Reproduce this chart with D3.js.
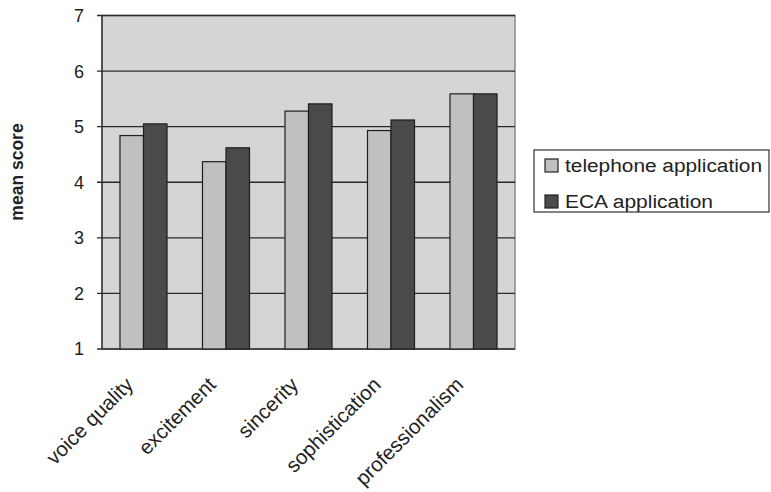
<!DOCTYPE html>
<html>
<head>
<meta charset="utf-8">
<script src="https://cdn.jsdelivr.net/npm/d3@7/dist/d3.min.js"></script>
<style>
  html, body { margin: 0; padding: 0; background: #ffffff; }
  svg { display: block; font-family: "Liberation Sans", Arial, sans-serif; }
</style>
</head>
<body>
<svg id="chart" width="771" height="492"></svg>
<script>
// Rating dimensions and mean scores per application
const categories = ["voice quality", "excitement", "sincerity", "sophistication", "professionalism"];
const seriesNames = ["telephone application", "ECA application"];
const telephoneScores = [4.84, 4.37, 5.28, 4.93, 5.59];
const ecaScores = [5.05, 4.62, 5.41, 5.12, 5.59];
const yTicks = [1, 2, 3, 4, 5, 6, 7];
const yLabel = "mean score";

const seriesValues = [telephoneScores, ecaScores];
const seriesColors = ["#c0c0c0", "#4a4a4a"];

const svg = d3.select("#chart");
const plot = { left: 102, right: 515, top: 15.5, bottom: 349 };

const y = d3.scaleLinear().domain([1, 7]).range([plot.bottom, plot.top]);
const x = d3.scaleBand().domain(categories)
  .range([plot.left, plot.right])
  .paddingInner(0.43).paddingOuter(0.218);
const xs = d3.scaleBand().domain(seriesNames).range([0, x.bandwidth()]);

// Plot background
svg.append("rect")
  .attr("x", plot.left).attr("y", plot.top)
  .attr("width", plot.right - plot.left).attr("height", plot.bottom - plot.top)
  .attr("fill", "#d5d5d5")
  .attr("stroke", "#8a8a8a").attr("stroke-width", 1.5);

// Horizontal gridlines with short ticks past the axis
svg.append("g").selectAll("line")
  .data(yTicks)
  .join("line")
  .attr("x1", plot.left - 5).attr("x2", plot.right)
  .attr("y1", d => y(d)).attr("y2", d => y(d))
  .attr("stroke", "#2a2a2a").attr("stroke-width", 1.3);

// Bars
const rows = categories.map((c, i) => ({ category: c, values: seriesNames.map((s, j) => ({ series: s, j, value: seriesValues[j][i] })) }));
svg.append("g").selectAll("g")
  .data(rows)
  .join("g")
  .attr("transform", d => `translate(${x(d.category)},0)`)
  .selectAll("rect")
  .data(d => d.values)
  .join("rect")
  .attr("x", d => xs(d.series))
  .attr("width", xs.bandwidth())
  .attr("y", d => y(d.value))
  .attr("height", d => y(1) - y(d.value))
  .attr("fill", d => seriesColors[d.j])
  .attr("stroke", "#1e1e1e").attr("stroke-width", 1.2);

// Y axis line
svg.append("line")
  .attr("x1", plot.left).attr("x2", plot.left)
  .attr("y1", plot.top).attr("y2", plot.bottom)
  .attr("stroke", "#2a2a2a").attr("stroke-width", 1.3);

// Y tick labels
svg.append("g").selectAll("text")
  .data(yTicks)
  .join("text")
  .attr("x", 84).attr("y", d => y(d))
  .attr("dy", "0.36em")
  .attr("text-anchor", "end")
  .attr("font-size", 18)
  .attr("fill", "#222")
  .text(d => d);

// Y axis title
svg.append("text")
  .attr("transform", "translate(23,172) rotate(-90)")
  .attr("text-anchor", "middle")
  .attr("font-size", 17.5).attr("font-weight", "bold")
  .attr("fill", "#222")
  .text(yLabel);

// Category labels, rotated
svg.append("g").selectAll("text")
  .data(categories)
  .join("text")
  .attr("transform", d => `translate(${x(d) + x.bandwidth() / 2 - 9},${plot.bottom + 37}) rotate(-45)`)
  .attr("text-anchor", "end")
  .attr("font-size", 20.5)
  .attr("fill", "#222")
  .text(d => d);

// Legend
const legend = svg.append("g");
legend.append("rect")
  .attr("x", 534).attr("y", 150).attr("width", 235).attr("height", 62)
  .attr("fill", "#fff").attr("stroke", "#333").attr("stroke-width", 1.2);
const legendWidths = [197, 148];
const legendItems = legend.selectAll("g.item")
  .data(seriesNames)
  .join("g").attr("class", "item")
  .attr("transform", (d, i) => `translate(545,${159 + i * 36})`);
legendItems.append("rect")
  .attr("width", 13).attr("height", 13)
  .attr("fill", (d, i) => seriesColors[i])
  .attr("stroke", "#222").attr("stroke-width", 1.2);
legendItems.append("text")
  .attr("x", 20).attr("y", 13)
  .attr("font-size", 18)
  .attr("fill", "#222")
  .attr("textLength", (d, i) => legendWidths[i])
  .attr("lengthAdjust", "spacingAndGlyphs")
  .text(d => d);
</script>
</body>
</html>
